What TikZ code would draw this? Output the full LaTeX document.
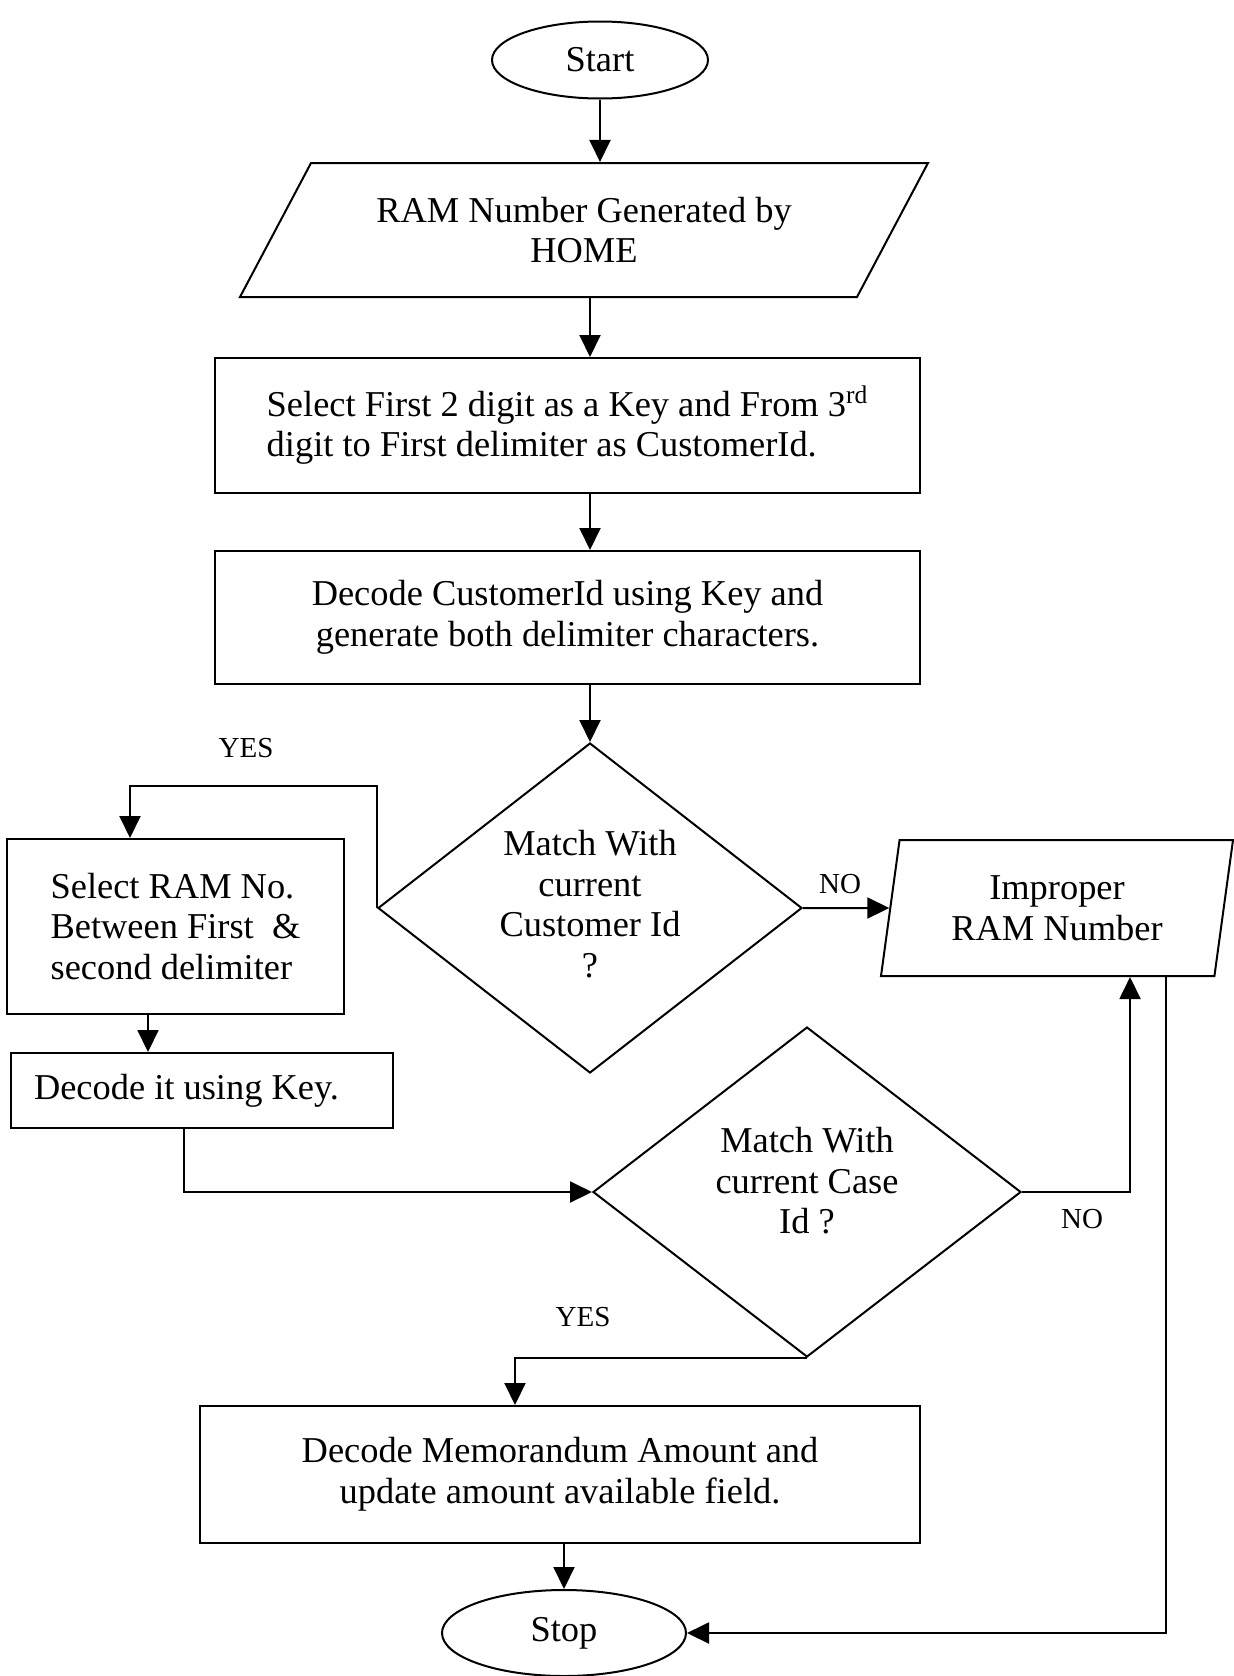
\documentclass[tikz,border=0pt]{standalone}
\usepackage{fontspec}
\setmainfont{Liberation Serif}
\usetikzlibrary{shapes.geometric,arrows.meta}
\begin{document}
\begin{tikzpicture}[x=0.5pt,y=-0.5pt,
  base/.style={draw, line width=1pt, align=center,
    font=\fontsize{18.2pt}{20.3pt}\selectfont},
  process/.style={base, rectangle, inner sep=0pt},
  io/.style={base, trapezium, trapezium stretches body, inner sep=0pt},
  decision/.style={base, diamond, aspect=1.28, inner sep=0pt},
  terminal/.style={base, ellipse, inner sep=0pt},
  flow/.style={line width=1pt, -{Triangle[length=11pt,width=10.5pt]}},
  tag/.style={font=\fontsize{14.5pt}{16pt}\selectfont},
]
\useasboundingbox (0,0) rectangle (1234,1676);
\fill[white] (0,0) rectangle (1234,1676);

% flow chart boxes
\node[terminal, minimum width=108pt, minimum height=38.5pt] (start) at (600,60) {Start};
\node[io, trapezium left angle=43, trapezium right angle=137,
      minimum width=344pt, minimum height=67pt] (read) at (584,230)
      {RAM Number Generated by\\HOME};
\node[process, minimum width=352.5pt, minimum height=67.5pt, align=flush left] (split) at (567.5,425.5)
      {Select First 2 digit as a Key and From 3\textsuperscript{rd}\\digit to First delimiter as CustomerId.};
\node[process, minimum width=352.5pt, minimum height=66.5pt] (decode) at (567.5,617.5)
      {Decode CustomerId using Key and\\generate both delimiter characters.};
\node[decision, minimum width=212pt, minimum height=165pt] (cust) at (590,908)
      {Match With\\current\\Customer Id\\?\\[-16pt]\mbox{}};
\node[io, trapezium left angle=74, trapezium right angle=106,
      minimum width=176pt, minimum height=68pt] (bad) at (1057,908)
      {Improper\\RAM Number};
\node[process, minimum width=168.5pt, minimum height=87.5pt, align=flush left] (pick) at (175.5,926.5)
      {Select RAM No.\\Between First \ \&\\second delimiter};
\node[process, minimum width=191pt, minimum height=37.5pt, align=flush left, text width=168pt] (dkey) at (202,1090.5)
      {Decode it using Key.};
\node[decision, minimum width=214pt, minimum height=165pt] (case) at (807,1192)
      {Match With\\current Case\\Id ?\\[-9pt]\mbox{}};
\node[process, minimum width=360pt, minimum height=68.5pt] (memo) at (560,1474.5)
      {Decode Memorandum Amount and\\update amount available field.};
\node[terminal, minimum width=122pt, minimum height=43pt] (stop) at (564,1633) {Stop};

% branch labels
\node[tag] (yes1) at (246,748) {YES};
\node[tag] (no1) at (840,884) {NO};
\node[tag] (no2) at (1082,1219) {NO};
\node[tag] (yes2) at (583,1317) {YES};

% connectors
\coordinate (yesbend) at (130,786);
\draw[flow] (start.south) -- (start.south |- read.north);
\draw[flow] (cust.north |- read.south) -- (cust.north |- split.north);
\draw[flow] (cust.north |- split.south) -- (cust.north |- decode.north);
\draw[flow] (cust.north |- decode.south) -- (cust.north);
\draw[flow] (cust.west) |- (yesbend) -- (yesbend |- pick.north);
\draw[flow] ([xshift=-13.75pt]pick.south) -- ([xshift=-13.75pt]pick.south |- dkey.north);
\draw[flow] ([xshift=-9pt]dkey.south) |- (case.west);
\draw[flow] (cust.east) -- (bad);
\draw[flow] (case.east) -| ([xshift=36.5pt]bad.south);
\draw[flow] ([xshift=54.5pt]bad.south) |- (stop.east);
\draw[flow] (case.south) -| ([xshift=-22.5pt]memo.north);
\draw[flow] (stop.north |- memo.south) -- (stop.north);
\end{tikzpicture}
\end{document}
